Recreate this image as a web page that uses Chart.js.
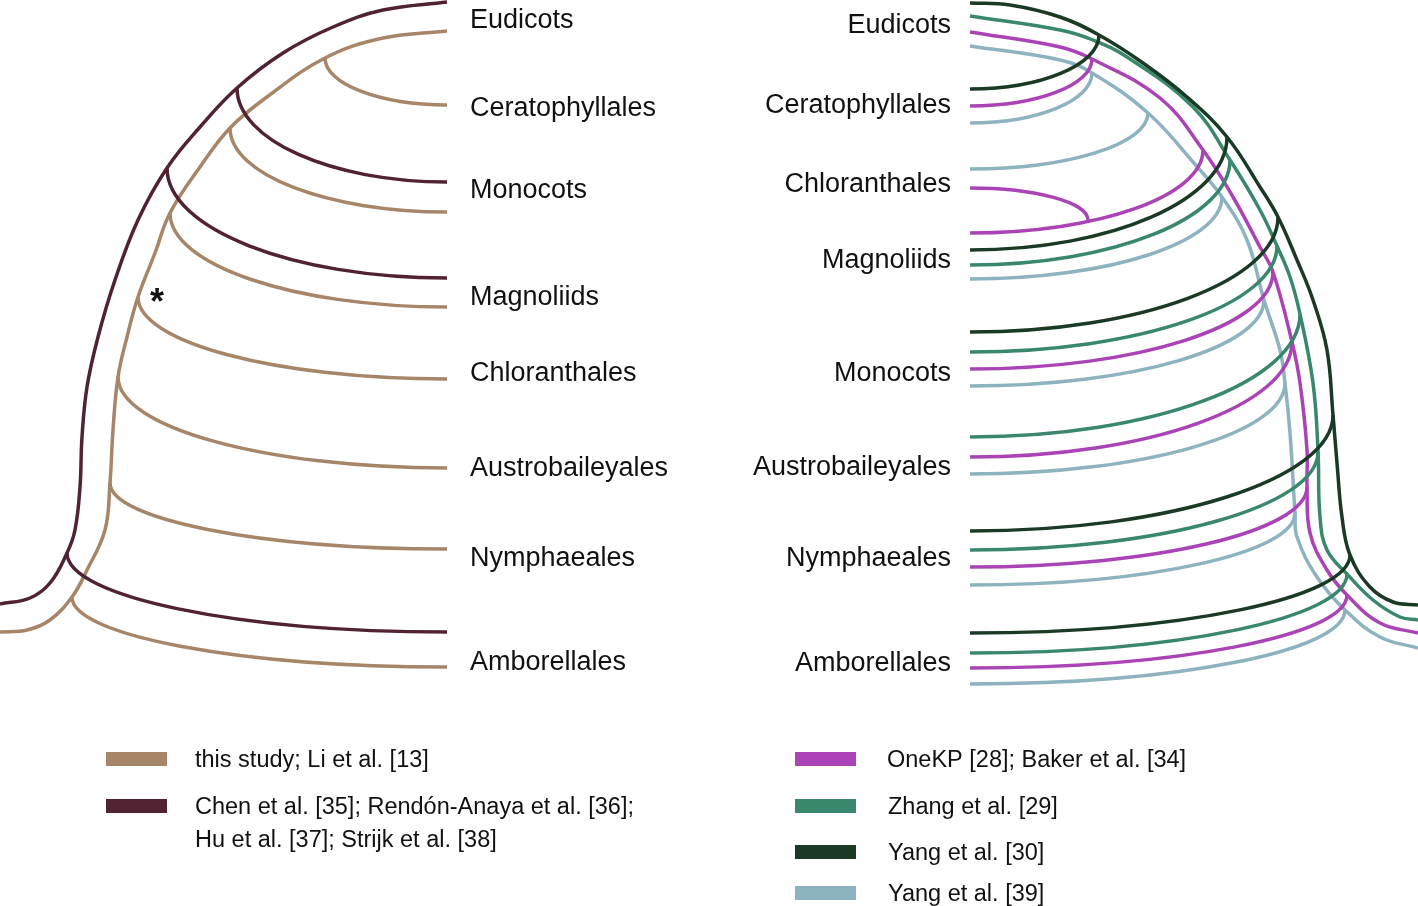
<!DOCTYPE html>
<html>
<head>
<meta charset="utf-8">
<title>Angiosperm backbone topologies</title>
<script src="https://cdn.jsdelivr.net/npm/chart.js@4.4.1/dist/chart.umd.min.js"></script>
<style>
  html, body { margin: 0; padding: 0; background: #fff; }
  #box { position: relative; width: 1418px; height: 906px; }
</style>
</head>
<body>
<div id="box"><canvas id="tree"></canvas></div>
<script>
// studies, in legend order
const studies = [
    'this study; Li et al. [13]',
    'Chen et al. [35]; Rendón-Anaya et al. [36];|Hu et al. [37]; Strijk et al. [38]',
    'OneKP [28]; Baker et al. [34]',
    'Zhang et al. [29]',
    'Yang et al. [30]',
    'Yang et al. [39]'
]
const colors = ['#a68568', '#502232', '#aa44b6', '#3a886c', '#1b3a26', '#8db2c0']

// tip labels (figure units, y grows downwards)
const leftTaxa = ['Eudicots', 'Ceratophyllales', 'Monocots', 'Magnoliids', 'Chloranthales', 'Austrobaileyales', 'Nymphaeales', 'Amborellales']
const leftTaxaY = [18, 106, 188, 295, 371, 466, 556, 660]
const rightTaxa = ['Eudicots', 'Ceratophyllales', 'Chloranthales', 'Magnoliids', 'Monocots', 'Austrobaileyales', 'Nymphaeales', 'Amborellales']
const rightTaxaY = [23, 103, 182, 258, 371, 465, 556, 661]

// x where the tips end (left tree) / start (right tree)
const leftTipX = 447
const rightTipX = 970

// backbones: root stub -> nodes -> top tip
const liSpine = [[0,632],[27,630],[50,620],[72,597],[87,570],[105,530],[110,483],[113,430],[118,377],[127,337],[138,297],[155,253],[170,213],[200,167],[230,128],[267,97],[325,58],[383,38],[447,31]]
const chenSpine = [[0,604],[30,598],[50,583],[67,553],[75,530],[80,487],[82,437],[87,387],[98,337],[115,280],[138,220],[167,168],[200,127],[237,88],[283,53],[333,27],[383,10],[447,2]]
const onekpSpine = [[970,32],[1060,47],[1092,59],[1160,98],[1203,150],[1233,197],[1260,247],[1273,272],[1292,342],[1300,383],[1307,450],[1307,487],[1310,533],[1327,570],[1347,595],[1380,623],[1418,633]]
const zhangSpine = [[970,16],[1060,30],[1093,40],[1127,57],[1193,107],[1230,160],[1260,210],[1277,246],[1290,277],[1300,314],[1313,383],[1318,450],[1320,517],[1327,550],[1347,574],[1373,600],[1400,617],[1418,620]]
const yang30Spine = [[970,3],[1010,5],[1060,17],[1099,35],[1143,63],[1187,97],[1227,137],[1260,187],[1278,217],[1297,260],[1313,300],[1327,350],[1333,415],[1337,463],[1342,517],[1350,555],[1370,587],[1393,602],[1418,605]]
const yang39Spine = [[970,46],[1060,60],[1092,73],[1148,113],[1193,162],[1222,197],[1247,240],[1264,300],[1280,350],[1285,383],[1290,433],[1295,513],[1297,537],[1317,577],[1345,610],[1380,637],[1418,648]]

// side branches: [node x, node y, tip y]
const liBranches = [[325,58,105],[230,128,212],[170,213,307],[138,297,379],[118,377,468],[110,483,549],[72,597,667]]
const chenBranches = [[237,88,182],[167,168,278],[67,553,632]]
const onekpBranches = [[1092,59,106],[1203,150,233],[1088,220,188],[1273,272,369],[1292,342,457],[1307,487,567],[1347,595,668]]
const zhangBranches = [[1230,160,265],[1277,246,352],[1300,314,437],[1318,452,550],[1347,574,653]]
const yang30Branches = [[1099,35,89],[1227,137,250],[1278,217,332],[1333,415,531],[1350,555,633]]
const yang39Branches = [[1092,73,123],[1148,113,169],[1222,197,279],[1264,300,386],[1285,383,474],[1295,513,585],[1345,610,684]]

const spines = [liSpine, chenSpine, onekpSpine, zhangSpine, yang30Spine, yang39Spine]
const branches = [liBranches, chenBranches, onekpBranches, zhangBranches, yang30Branches, yang39Branches]
const tipX = [leftTipX, leftTipX, rightTipX, rightTipX, rightTipX, rightTipX]
const layer = [6, 5, 3, 2, 1, 4]   // higher = drawn further below

const FONT = '"Liberation Sans", Arial, Helvetica, sans-serif'
const KAPPA = 0.5523

// each branch leaves its node vertically and reaches its tip horizontally
const branchPlugin = {
    id: 'branchCurves',
    afterDatasetDraw(chart, args) {
        const ds = chart.data.datasets[args.index]
        if (!ds.isBranches) return
        const { ctx, scales: { x, y } } = chart
        ctx.save()
        ctx.strokeStyle = ds.borderColor
        ctx.lineWidth = ds.borderWidth
        args.meta.data.forEach((pt, i) => {
            const raw = ds.data[i]
            const ax = pt.x, ay = pt.y
            const bx = x.getPixelForValue(raw.tx), by = y.getPixelForValue(raw.ty)
            ctx.beginPath()
            ctx.moveTo(ax, ay)
            ctx.bezierCurveTo(ax, ay + KAPPA * (by - ay), bx - KAPPA * (bx - ax), by, bx, by)
            ctx.stroke()
        })
        ctx.restore()
    }
}

const textPlugin = {
    id: 'treeText',
    afterDraw(chart) {
        const { ctx, scales: { x, y } } = chart
        ctx.save()
        ctx.fillStyle = '#111'

        // taxon names
        ctx.font = '27px ' + FONT
        ctx.textBaseline = 'alphabetic'
        ctx.textAlign = 'left'
        leftTaxa.forEach((t, i) => ctx.fillText(t, x.getPixelForValue(470), y.getPixelForValue(leftTaxaY[i]) + 9.7))
        ctx.textAlign = 'right'
        rightTaxa.forEach((t, i) => ctx.fillText(t, x.getPixelForValue(951), y.getPixelForValue(rightTaxaY[i]) + 9.7))

        // asterisk on the node it marks
        ctx.font = 'bold 36px ' + FONT
        ctx.textAlign = 'center'
        const m = ctx.measureText('*')
        ctx.fillText('*', x.getPixelForValue(157), y.getPixelForValue(295) + (m.actualBoundingBoxAscent - m.actualBoundingBoxDescent) / 2)

        // legend
        const rows = [
            { s: 0, sx: 106, tx: 195, cy: 759 },
            { s: 1, sx: 106, tx: 195, cy: 806 },
            { s: 2, sx: 795, tx: 887, cy: 759 },
            { s: 3, sx: 795, tx: 888, cy: 806 },
            { s: 4, sx: 795, tx: 888, cy: 852 },
            { s: 5, sx: 795, tx: 888, cy: 893 }
        ]
        ctx.font = '23.5px ' + FONT
        ctx.textAlign = 'left'
        rows.forEach(r => {
            ctx.fillStyle = colors[r.s]
            ctx.fillRect(r.sx, r.cy - 7, 61, 14)
            ctx.fillStyle = '#111'
            studies[r.s].split('|').forEach((line, k) => ctx.fillText(line, r.tx, r.cy + 8.4 + k * 33))
        })
        ctx.restore()
    }
}

const datasets = []
spines.forEach((sp, i) => {
    datasets.push({
        label: studies[i],
        data: sp.map(([px, py]) => ({ x: px, y: py })),
        showLine: true,
        borderColor: colors[i],
        borderWidth: 3.5,
        tension: 0.4,
        pointRadius: 0,
        order: layer[i]
    })
    datasets.push({
        label: studies[i] + ' branches',
        isBranches: true,
        data: branches[i].map(([nx, ny, ty]) => ({ x: nx, y: ny, tx: tipX[i], ty: ty })),
        showLine: false,
        borderColor: colors[i],
        borderWidth: 3.5,
        pointRadius: 0,
        order: layer[i]
    })
})

new Chart(document.getElementById('tree'), {
    type: 'scatter',
    data: { datasets },
    plugins: [branchPlugin, textPlugin],
    options: {
        responsive: true,
        maintainAspectRatio: false,
        animation: false,
        layout: { padding: 0 },
        scales: {
            x: { type: 'linear', min: 0, max: 1418, display: false },
            y: { type: 'linear', min: 0, max: 906, reverse: true, display: false }
        },
        plugins: {
            legend: { display: false },
            tooltip: { enabled: false }
        }
    }
})
</script>
</body>
</html>
